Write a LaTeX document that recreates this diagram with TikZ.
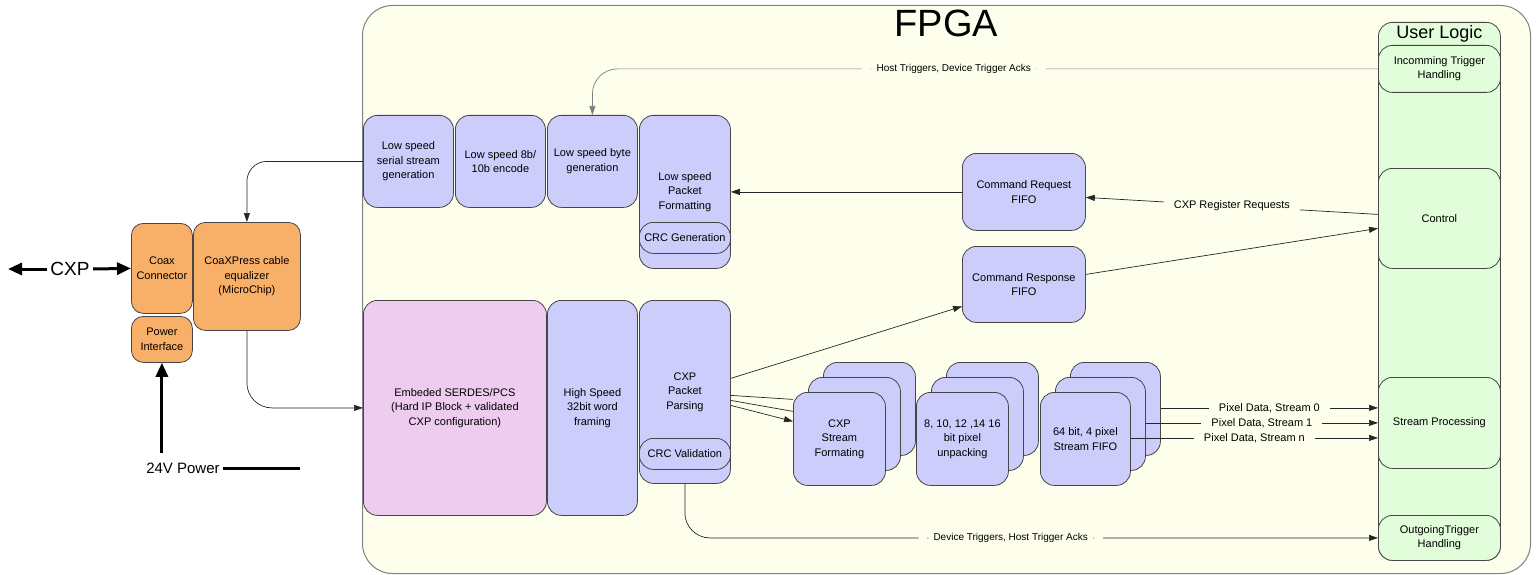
\documentclass[tikz,border=0pt]{standalone}
\usepackage{fontspec}
\setmainfont{Liberation Sans}
\usetikzlibrary{arrows.meta,calc}

\definecolor{fpgabg}{RGB}{254,254,236}
\definecolor{userbg}{RGB}{225,253,217}
\definecolor{lsblue}{RGB}{205,205,252}
\definecolor{serdespink}{RGB}{237,204,240}
\definecolor{coaxorange}{RGB}{248,175,104}
\definecolor{boxedge}{RGB}{70,70,70}

\begin{document}
\begin{tikzpicture}[x=1pt,y=-1pt,>={Triangle[length=9pt,width=6pt]},
    sz/.style 2 args={minimum width=#1pt,minimum height=#2pt},
    blk/.style={draw=boxedge,line width=0.8pt,fill=lsblue,rounded corners=14pt,
      anchor=north west,align=center,inner sep=2pt,font=\fontsize{11}{14.5}\selectfont},
    pinkblk/.style={blk,fill=serdespink},
    orangeblk/.style={blk,fill=coaxorange,rounded corners=12pt},
    userblk/.style={blk,fill=userbg},
    lbl/.style={fill=fpgabg,inner xsep=10pt,inner ysep=1pt,font=\fontsize{11}{13}\selectfont},
    smalllbl/.style={lbl,inner xsep=15pt,font=\fontsize{10}{12}\selectfont},
    wire/.style={draw=black!85,line width=0.7pt},
    bigwire/.style={line width=3pt,-{Triangle[length=14pt,width=12pt]}},
  ]
    \useasboundingbox (0,0) rectangle (1536,575);

    % FPGA frame
    \node[draw=gray,line width=1pt,fill=fpgabg,rounded corners=30pt,anchor=north west,sz={1168}{568},
      label={[anchor=north,inner sep=5pt,font=\fontsize{38}{38}\selectfont]north:FPGA}] (fpga) at (362,5) {};

    % user logic column
    \node[userblk,sz={122}{538},
      label={[anchor=north,inner sep=3pt,font=\fontsize{18}{18}\selectfont]north:User Logic}] (ulogic) at (1378,22) {};
    \node[userblk,sz={122}{47}]  (inctrig) at (1378,45)  {Incomming Trigger\\Handling};
    \node[userblk,sz={122}{100}] (ctrl)    at (1378,168) {Control};
    \node[userblk,sz={122}{91}]  (sproc)   at (1378,377) {Stream Processing};
    \node[userblk,sz={122}{45}]  (outtrig) at (1378,515) {OutgoingTrigger\\Handling};

    % low speed path
    \node[blk,sz={90}{92}]  (lsser)  at (363,115) {Low speed\\serial stream\\generation};
    \node[blk,sz={90}{92}]  (lsenc)  at (455,115) {Low speed 8b/\\10b encode};
    \node[blk,sz={90}{92}]  (lsbyte) at (547,115) {Low speed byte\\generation};
    \node[blk,sz={91}{153}] (lspkt)  at (639,115) {Low speed\\Packet\\Formatting};
    \node[blk,sz={91}{31}]  (crcgen) at (639,222) {CRC Generation};

    % high speed path
    \node[pinkblk,sz={183}{215}] (serdes)  at (363,300) {Embeded SERDES/PCS\\(Hard IP Block + validated\\CXP configuration)};
    \node[blk,sz={90}{215}]      (hsframe) at (547,300) {High Speed\\32bit word\\framing};
    \node[blk,sz={91}{183}]      (parse)   at (639,300) {CXP\\Packet\\Parsing};
    \node[blk,sz={91}{31}]       (crcval)  at (639,438) {CRC Validation};

    \node[blk,sz={123}{77}] (cmdreq)  at (962,153) {Command Request\\FIFO};
    \node[blk,sz={123}{76}] (cmdresp) at (962,246) {Command Response\\FIFO};

    % stacked stream blocks
    \foreach \k in {2,1} {
      \node[blk,sz={92}{93}] (fmt\k)  at ({793+15*\k},{392-15*\k}) {};
      \node[blk,sz={92}{93}] (unpk\k) at ({916+15*\k},{392-15*\k}) {};
      \node[blk,sz={90}{93}] (fifo\k) at ({1040+15*\k},{392-15*\k}) {};
    }
    \node[blk,sz={92}{93}] (fmt0)  at (793,392)  {CXP\\Stream\\Formating};
    \node[blk,sz={92}{93}] (unpk0) at (916,392)  {8, 10, 12 ,14 16\\bit pixel\\unpacking};
    \node[blk,sz={90}{93}] (fifo0) at (1040,392) {64 bit, 4 pixel\\Stream FIFO};

    % board side
    \node[orangeblk,sz={61}{90}]   (coax) at (131,223) {Coax\\Connector};
    \node[orangeblk,sz={61}{46}]   (pwr)  at (131,316) {Power\\Interface};
    \node[orangeblk,sz={107}{108}] (eq)   at (193,222) {CoaXPress cable\\equalizer\\(MicroChip)};

    \node[font=\fontsize{19}{19}\selectfont] (cxp) at (70,269) {CXP};
    \coordinate (cxpout) at (8,269);
    \node[font=\fontsize{15}{15}\selectfont] (pwrtxt) at (183,468) {24V Power};
    \coordinate (pwrend) at (300,468);

    \draw[bigwire] (cxp.west) -- (cxpout);
    \draw[bigwire] (cxp.east) -- (coax.west);
    \draw[bigwire] ($(pwr.south |- pwrtxt.north)+(0,-6)$) -- (pwr.south);
    \draw[line width=3pt] (pwrtxt.east) -- (pwrend);

    % connections
    \draw[wire,draw=gray,->,rounded corners=25pt] (inctrig.west) -|
      node[smalllbl,pos=0.27]{Host Triggers, Device Trigger Acks} (lsbyte.north);
    \draw[wire,->,rounded corners=20pt] (lsser.west) -| (eq.north);
    \draw[wire,->,rounded corners=25pt] (eq.south) |- (serdes.west);
    \draw[wire,->] (cmdreq) -- (lspkt);
    \draw[wire,->] ([yshift=4pt]ctrl.west) -- node[lbl]{CXP Register Requests} ([yshift=-5.5pt]cmdreq.east);
    \draw[wire,->] ([yshift=10pt]cmdresp.east) -- ([yshift=-10pt]ctrl.west);
    \draw[wire,->] ([yshift=13.5pt]parse.east) -- ([yshift=-22pt]cmdresp.west);

    \foreach \a/\b in {-3.5/39.5,-8.5/27.5}
      \draw[wire] ([yshift=\a pt]parse.east) -- ([yshift=\b pt]fmt0.west);
    \draw[wire,->] ([yshift=-13.5pt]parse.east) -- ([yshift=17.5pt]fmt0.west);

    \coordinate (sp0) at ($(sproc.west)+(0,-15)$);
    \coordinate (sp1) at (sproc.west);
    \coordinate (spn) at ($(sproc.west)+(0,15)$);
    \draw[wire,->] (sp0 -| fifo2.east) -- node[lbl]{Pixel Data, Stream 0} (sp0);
    \draw[wire,->] (sp1 -| fifo1.east) -- node[lbl]{Pixel Data, Stream 1} (sp1);
    \draw[wire,->] (spn -| fifo0.east) -- node[lbl]{Pixel Data, Stream n} (spn);

    \draw[wire,->,rounded corners=25pt] (parse.south) |-
      node[smalllbl,pos=0.735]{Device Triggers, Host Trigger Acks} (outtrig.west);
\end{tikzpicture}
\end{document}
